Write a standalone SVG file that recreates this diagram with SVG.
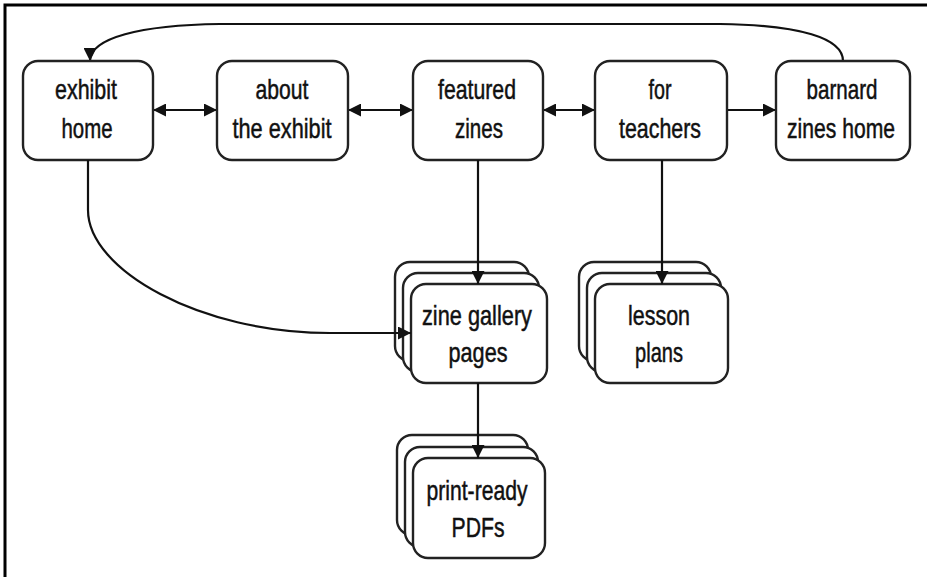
<svg xmlns="http://www.w3.org/2000/svg" width="927" height="577" viewBox="0 0 927 577">
<style>
.box{fill:#fff;stroke:#222;stroke-width:2.4}
.lbl{font-family:"Liberation Sans",Arial,sans-serif;font-size:28px;fill:#111;stroke:#111;stroke-width:0.5;text-anchor:middle}
.con{fill:none;stroke:#111;stroke-width:2.2}
</style>
<defs>
<marker id="ah" markerUnits="userSpaceOnUse" markerWidth="13" markerHeight="13" viewBox="0 0 13 13" refX="13" refY="6.5" orient="auto-start-reverse">
<path d="M0,0 L13,6.5 L0,13 z" fill="#111"/>
</marker>
</defs>
<rect width="927" height="577" fill="#fff"/>
<path d="M5,577 V5 H927" fill="none" stroke="#000" stroke-width="3"/>

<g id="connectors">
<path class="con" d="M843,61 C843,38 800,25 720,24 L220,24 C140,25 90,38 90,61" marker-end="url(#ah)"/>
<path class="con" d="M153,110 L217,110" marker-start="url(#ah)" marker-end="url(#ah)"/>
<path class="con" d="M348,110 L413,110" marker-start="url(#ah)" marker-end="url(#ah)"/>
<path class="con" d="M543,110 L595,110" marker-start="url(#ah)" marker-end="url(#ah)"/>
<path class="con" d="M727,110 L776,110" marker-end="url(#ah)"/>
</g>

<g id="exhibit-home">
<rect class="box" x="23" y="61" width="130" height="99" rx="15"/>
<text class="lbl" x="86" y="99" textLength="62" lengthAdjust="spacingAndGlyphs">exhibit</text>
<text class="lbl" x="87" y="138" textLength="51" lengthAdjust="spacingAndGlyphs">home</text>
</g>
<g id="about-exhibit">
<rect class="box" x="217" y="61" width="131" height="99" rx="15"/>
<text class="lbl" x="282" y="99" textLength="53" lengthAdjust="spacingAndGlyphs">about</text>
<text class="lbl" x="282" y="138" textLength="99" lengthAdjust="spacingAndGlyphs">the exhibit</text>
</g>
<g id="featured-zines">
<rect class="box" x="413" y="61" width="130" height="99" rx="15"/>
<text class="lbl" x="477" y="99" textLength="78" lengthAdjust="spacingAndGlyphs">featured</text>
<text class="lbl" x="479" y="138" textLength="48" lengthAdjust="spacingAndGlyphs">zines</text>
</g>
<g id="for-teachers">
<rect class="box" x="595" y="61" width="132" height="99" rx="15"/>
<text class="lbl" x="660" y="99" textLength="23" lengthAdjust="spacingAndGlyphs">for</text>
<text class="lbl" x="660" y="138" textLength="82" lengthAdjust="spacingAndGlyphs">teachers</text>
</g>
<g id="barnard-zines-home">
<rect class="box" x="776" y="61" width="134" height="99" rx="15"/>
<text class="lbl" x="842" y="99" textLength="71" lengthAdjust="spacingAndGlyphs">barnard</text>
<text class="lbl" x="841" y="138" textLength="108" lengthAdjust="spacingAndGlyphs">zines home</text>
</g>

<g id="zine-gallery-pages">
<rect class="box" x="395" y="262" width="134" height="99" rx="15"/>
<rect class="box" x="403" y="273" width="136" height="99" rx="15"/>
<rect class="box" x="411" y="284" width="136" height="99" rx="15"/>
<text class="lbl" x="477" y="325" textLength="110" lengthAdjust="spacingAndGlyphs">zine gallery</text>
<text class="lbl" x="478" y="362" textLength="59" lengthAdjust="spacingAndGlyphs">pages</text>
</g>
<g id="lesson-plans">
<rect class="box" x="579" y="262" width="132" height="99" rx="15"/>
<rect class="box" x="587" y="273" width="134" height="99" rx="15"/>
<rect class="box" x="595" y="284" width="133" height="99" rx="15"/>
<text class="lbl" x="659" y="325" textLength="62" lengthAdjust="spacingAndGlyphs">lesson</text>
<text class="lbl" x="659" y="362" textLength="48" lengthAdjust="spacingAndGlyphs">plans</text>
</g>
<g id="print-ready-pdfs">
<rect class="box" x="397" y="435" width="131" height="100" rx="15"/>
<rect class="box" x="405" y="447" width="133" height="100" rx="15"/>
<rect class="box" x="413" y="458" width="132" height="100" rx="15"/>
<text class="lbl" x="477" y="500" textLength="101" lengthAdjust="spacingAndGlyphs">print-ready</text>
<text class="lbl" x="478" y="537" textLength="53" lengthAdjust="spacingAndGlyphs">PDFs</text>
</g>

<g id="connectors-2">
<path class="con" d="M478,160 L478,284" marker-end="url(#ah)"/>
<path class="con" d="M662,160 L662,284" marker-end="url(#ah)"/>
<path class="con" d="M478,383 L478,458" marker-end="url(#ah)"/>
<path class="con" d="M88,160 L88,210 C88,270 200,333 330,333 L411,333" marker-end="url(#ah)"/>
</g>
</svg>
